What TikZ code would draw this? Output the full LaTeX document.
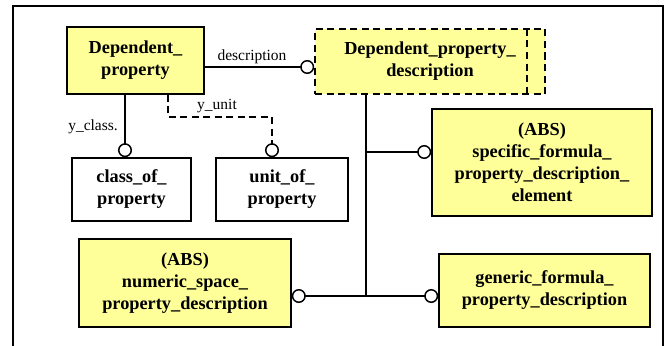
\documentclass[tikz,border=0pt]{standalone}
\usepackage{fontspec}
\setmainfont{Liberation Serif}[BoldFont={Liberation Serif Bold}]
\newfontfamily\boxfont{Liberation Serif Bold}
\usetikzlibrary{arrows.meta,calc}
\definecolor{boxy}{RGB}{255,255,153}
\tikzset{
  x=1pt, y=-1pt,
  ent/.style={draw, line width=1.6pt, inner sep=0pt, align=center,
    font=\boxfont\fontsize{18.3}{22}\selectfont},
  yent/.style={ent, fill=boxy},
  conn/.style={line width=1.5pt},
  oc/.tip={Circle[open, length=14pt, width=14pt, line width=1.5pt]},
  lbl/.style={font=\fontsize{15.5}{18}\selectfont, inner sep=0pt},
  dsh/.style={dash pattern=on 7pt off 4.5pt}
}
\begin{document}
\begin{tikzpicture}
\useasboundingbox (0,0) rectangle (668,345);
\fill[white] (0,0) rectangle (668,345);
\draw[line width=1.8pt] (13,350) -- (13,6) -- (663,6) -- (663,350);

\node[yent, minimum width=137pt, minimum height=67pt] (dp) at (135.5,60.5) {Dependent\_\\property};
\node[yent, dsh, minimum width=230pt, minimum height=65pt] (dpd) at (430,61.5) {Dependent\_property\_\\description};
\draw[line width=1.6pt, dsh] (527,29) -- (527,94);
\node[ent, minimum width=119pt, minimum height=63pt] (cls) at (131.5,189.5) {class\_of\_\\property};
\node[ent, minimum width=132pt, minimum height=63pt] (unit) at (282,189.5) {unit\_of\_\\property};
\node[yent, minimum width=220pt, minimum height=107pt] (spec) at (542,162.5) {(ABS)\\specific\_formula\_\\property\_description\_\\element};
\node[yent, minimum width=212pt, minimum height=88pt] (num) at (185,283) {(ABS)\\numeric\_space\_\\property\_description};
\node[yent, minimum width=211pt, minimum height=73pt] (gen) at (544.5,290.5) {generic\_formula\_\\property\_description};

\coordinate (d1) at (0,67);
\coordinate (xc) at (125,0);
\coordinate (xu1) at (168,117);
\coordinate (xu2) at (272,117);
\coordinate (j1) at (366,152);
\coordinate (j2) at (366,296);

\draw[conn, -oc] (dp.east |- d1) -- (dpd.west |- d1);
\node[lbl] (ldesc) at (252,57) {description};

\draw[conn, -oc] (dp.south -| xc) -- (cls.north -| xc);
\node[lbl, anchor=east] (lcls) at (118,127) {y\_class.};

\draw[conn, dsh, -oc] (dp.south -| xu1) -- (xu1) -- (xu2) -- (unit.north -| xu2);
\node[lbl] (lunit) at (217,106) {y\_unit};

\draw[conn] (dpd.south -| j1) -- (j2);
\draw[conn, -oc] (j1) -- (j1 -| spec.west);
\draw[conn, oc-oc] (num.east |- j2) -- (gen.west |- j2);
\end{tikzpicture}
\end{document}
